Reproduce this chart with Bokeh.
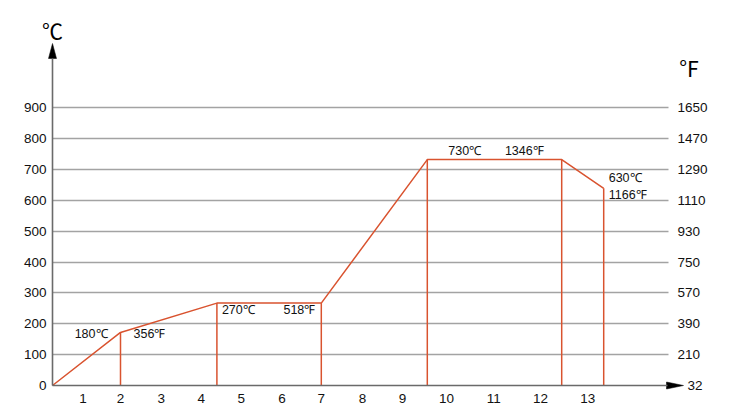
from bokeh.plotting import figure
from bokeh.models import Range1d, LinearAxis, FixedTicker, Grid, ColumnDataSource
from bokeh.core.properties import value
from bokeh.embed import file_html
from bokeh.resources import INLINE

# ---- data ----
time_x = [0, 1.70, 4.11, 6.72, 9.37, 12.73, 13.78]
temp_c = [0, 172, 267, 267, 732, 732, 639]

x_tick_pos = [0.76, 1.70, 2.72, 3.72, 4.72, 5.74, 6.72, 7.75, 8.75, 9.85, 11.03, 12.2, 13.38]
x_tick_labels = ["1", "2", "3", "4", "5", "6", "7", "8", "9", "10", "11", "12", "13"]

c_ticks = [0, 100, 200, 300, 400, 500, 600, 700, 800, 900]
f_labels = ["32", "210", "390", "570", "750", "930", "1110", "1290", "1470", "1650"]

ann_text = ["180℃", "356℉", "270℃", "518℉", "730℃", "1346℉", "630℃", "1166℉"]
ann_point = [1, 1, 2, 3, 4, 5, 6, 6]

# ---- styles / geometry ----
FONT = "Liberation Sans"
TITLE_FONT = "Noto Sans CJK SC"
RED = "#d9532f"
GRID = "#a3a3a3"
AXIS = "#6a6a6a"
W, H = 745, 414
X0_PX, Y0_PX = 52, 385      # pixel of data origin
PX_X = 40.0                 # px per x unit
PX_Y = 0.3086               # px per y unit
X_GRID_END = (668 - X0_PX) / PX_X
X_AXIS_END = (667 - X0_PX) / PX_X
Y_AXIS_END = (Y0_PX - 58) / PX_Y

def dx(px):
    return px / PX_X

def dy(px):
    return px / PX_Y

p = figure(width=W, height=H, output_backend="svg", toolbar_location=None,
           x_range=Range1d(-X0_PX / PX_X, (W - X0_PX) / PX_X),
           y_range=Range1d(-(H - Y0_PX) / PX_Y, Y0_PX / PX_Y),
           min_border=0, x_axis_type=None, y_axis_type=None)
p.outline_line_color = None
p.background_fill_color = "white"
p.border_fill_color = "white"

def style_axis(ax, standoff):
    ax.major_tick_line_color = None
    ax.minor_tick_line_color = None
    ax.major_tick_out = 0
    ax.major_tick_in = 0
    ax.minor_tick_out = 0
    ax.major_label_text_font = FONT
    ax.major_label_text_font_size = "13.5px"
    ax.major_label_text_color = "#111111"
    ax.major_label_standoff = standoff
    ax.axis_line_color = AXIS
    ax.axis_line_width = 1.6

# left axis (°C)
yl = LinearAxis(ticker=FixedTicker(ticks=c_ticks), fixed_location=0,
                bounds=(0, Y_AXIS_END))
style_axis(yl, 6)
p.add_layout(yl, "left")

# right axis (°F)
yr = LinearAxis(ticker=FixedTicker(ticks=c_ticks[1:]), fixed_location=X_GRID_END,
                major_label_overrides={c: f for c, f in zip(c_ticks[1:], f_labels[1:])})
style_axis(yr, 9)
yr.axis_line_color = None
p.add_layout(yr, "right")

# bottom axis
xb = LinearAxis(ticker=FixedTicker(ticks=x_tick_pos), fixed_location=0,
                bounds=(0, X_AXIS_END),
                major_label_overrides={t: l for t, l in zip(x_tick_pos, x_tick_labels)})
style_axis(xb, 8)
p.add_layout(xb, "below")

# horizontal grid lines
if "cross_bounds" in Grid.properties():
    g = Grid(dimension=1, ticker=FixedTicker(ticks=c_ticks[1:]), cross_bounds=(0, X_GRID_END))
    g.grid_line_color = GRID
    g.grid_line_width = 1.5
    p.add_layout(g)
else:
    p.segment(x0=[0] * 9, y0=c_ticks[1:], x1=[X_GRID_END] * 9, y1=c_ticks[1:],
              line_color=GRID, line_width=1.5)

# curve + drop lines
p.line(time_x, temp_c, line_color=RED, line_width=1.5)
p.segment(x0=time_x[1:], y0=[0] * (len(time_x) - 1), x1=time_x[1:], y1=temp_c[1:],
          line_color=RED, line_width=1.5)

# annotations near points
x_off = [-13, 13, 5, -6, 21, -18, 5, 5]
y_off = [2, 2, 7, 7, -9, -9, -10, 7]
align = ["right", "left", "left", "right", "left", "right", "left", "left"]
src = ColumnDataSource(dict(
    x=[time_x[i] for i in ann_point],
    y=[temp_c[i] for i in ann_point],
    text=ann_text, xo=x_off, yo=y_off, al=align))
p.text(x="x", y="y", text="text", x_offset="xo", y_offset="yo", text_align="al",
       text_baseline="middle", text_font=value(FONT), text_font_size="12.5px",
       text_color="#111111", source=src)

# arrow heads
p.patch([-dx(4), 0, dx(4)], [Y_AXIS_END, Y_AXIS_END + dy(15), Y_AXIS_END],
        fill_color="black", line_color="black", line_width=0.5)
p.patch([X_AXIS_END - dx(1), X_AXIS_END + dx(16), X_AXIS_END - dx(1)],
        [-dy(3.5), 0, dy(3.5)],
        fill_color="black", line_color="black", line_width=0.5)

# unit titles and the 32 °F label at the axis arrow
p.text(x=[0], y=[Y_AXIS_END + dy(29)], text=["℃"], text_align="center",
       text_baseline="middle", text_font=value(TITLE_FONT), text_font_size="21px",
       text_color="black")
p.text(x=[X_GRID_END + dx(10)], y=[Y_AXIS_END - dy(8.5)], text=["℉"], text_align="left",
       text_baseline="middle", text_font=value(TITLE_FONT), text_font_size="21px",
       text_color="black")
p.text(x=[X_GRID_END + dx(19)], y=[c_ticks[0]], text=[f_labels[0]], text_align="left",
       text_baseline="middle", text_font=value(FONT), text_font_size="13.5px",
       text_color="#111111")

open("out.html", "w").write(file_html(p, INLINE))
